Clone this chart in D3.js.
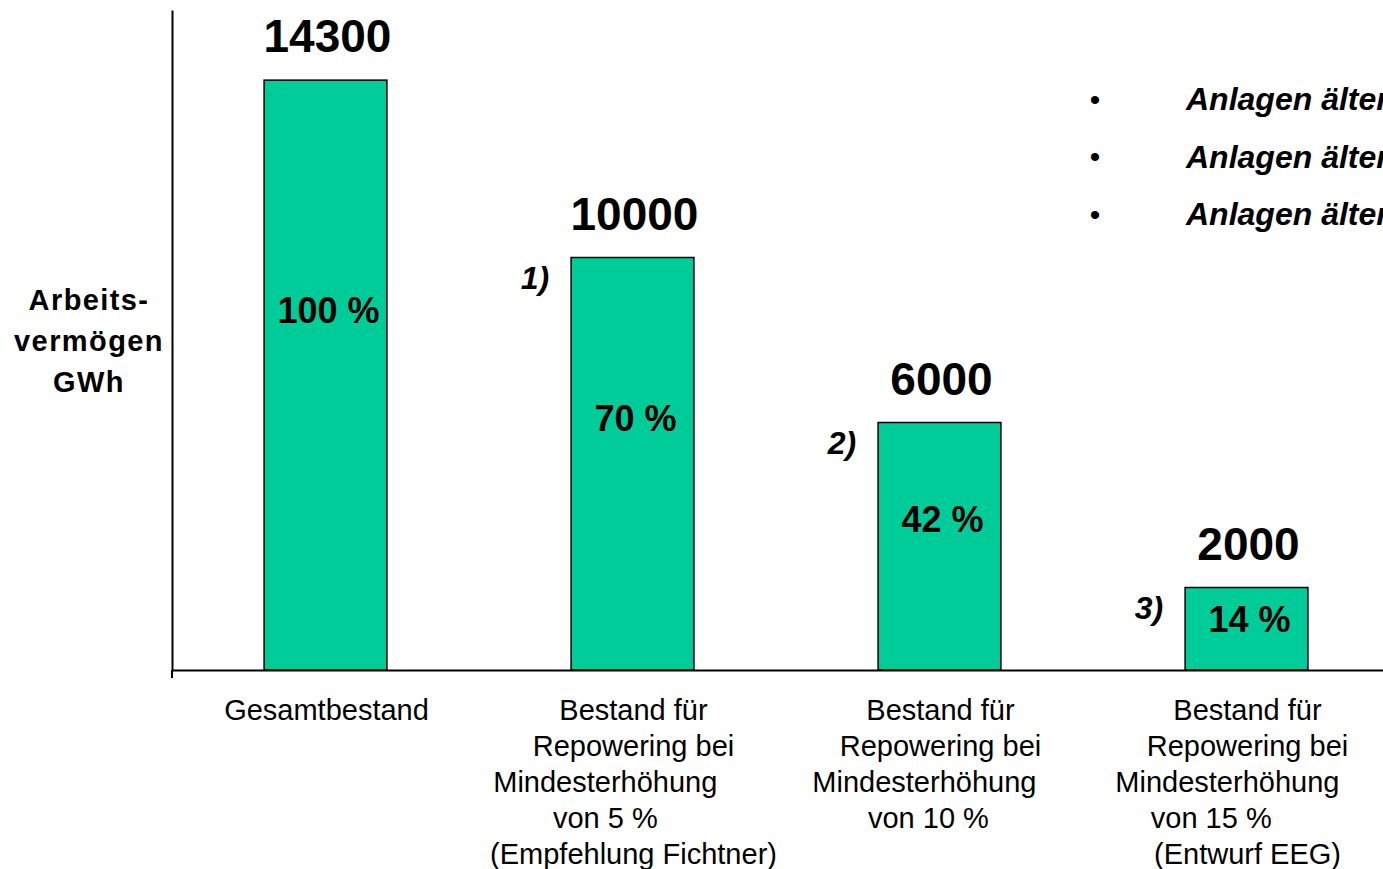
<!DOCTYPE html>
<html>
<head>
<meta charset="utf-8">
<script src="https://cdn.jsdelivr.net/npm/d3@7"></script>
<style>
  html, body { margin: 0; padding: 0; background: #fff; }
  svg { display: block; }
  text { font-family: "Liberation Sans", Arial, sans-serif; fill: #000; }
</style>
</head>
<body>
<svg id="chart" width="1383" height="869"></svg>
<script>
// ---- data ----
const categories = [
  ["Gesamtbestand"],
  ["Bestand für", "Repowering bei", "Mindesterhöhung\u00a0\u00a0\u00a0\u00a0\u00a0\u00a0\u00a0", "von 5 %\u00a0\u00a0\u00a0\u00a0\u00a0\u00a0\u00a0", "(Empfehlung Fichtner)"],
  ["Bestand für", "Repowering bei", "Mindesterhöhung\u00a0\u00a0\u00a0\u00a0", "von 10 %\u00a0\u00a0\u00a0"],
  ["Bestand für", "Repowering bei", "Mindesterhöhung\u00a0\u00a0\u00a0\u00a0\u00a0", "von 15 %\u00a0\u00a0\u00a0\u00a0\u00a0\u00a0\u00a0\u00a0\u00a0", "(Entwurf EEG)"]
];
const values = [14300, 10000, 6000, 2000];
const footnotes = ["", "1)", "2)", "3)"];
const yTitle = ["Arbeits-", "vermögen", "GWh"];
const bulletItems = ["Anlagen älter", "Anlagen älter", "Anlagen älter"];

// ---- layout ----
const svg = d3.select("#chart");
const x0 = 172, x1 = 1400, yBase = 670, yTop = 10;
const keys = d3.range(values.length);

const x = d3.scaleBand().domain(keys).range([x0, x1]).paddingInner(0.6).paddingOuter(0.3);
const y = d3.scaleLinear().domain([0, 16000]).range([yBase, yTop]);

// bars
svg.append("g").selectAll("rect").data(values).join("rect")
  .attr("x", (d, i) => x(i))
  .attr("y", d => y(d))
  .attr("width", x.bandwidth())
  .attr("height", d => y(0) - y(d))
  .attr("fill", "#00cc99")
  .attr("stroke", "#000")
  .attr("stroke-width", 1.5);

// axes
const yAxis = svg.append("g").attr("transform", `translate(${x0},0)`)
  .call(d3.axisLeft(y).tickValues([]).tickSizeOuter(0));
yAxis.select(".domain").attr("stroke", "#000").attr("stroke-width", 2);

const xAxis = svg.append("g").attr("transform", `translate(0,${yBase})`)
  .call(d3.axisBottom(x).tickValues([]).tickSizeOuter(0));
xAxis.select(".domain").attr("stroke", "#000").attr("stroke-width", 2);
// small tick at origin below baseline
svg.append("line").attr("x1", x0).attr("x2", x0).attr("y1", yBase).attr("y2", yBase + 8)
  .attr("stroke", "#000").attr("stroke-width", 2);

// value labels
svg.append("g").selectAll("text").data(values).join("text")
  .attr("x", (d, i) => x(i) + x.bandwidth() / 2 + 2)
  .attr("y", d => y(d) - 28)
  .attr("text-anchor", "middle")
  .style("font-size", "46px").style("font-weight", "bold")
  .text(d => d);

// percent labels
svg.append("g").selectAll("text").data(values).join("text")
  .attr("x", (d, i) => x(i) + x.bandwidth() / 2 + 3)
  .attr("y", d => y(d * 0.61))
  .attr("dy", "0.35em")
  .attr("text-anchor", "middle")
  .style("font-size", "36px").style("font-weight", "bold")
  .text(d => Math.round(d / values[0] * 100) + " %");

// footnotes
svg.append("g").selectAll("text").data(values).join("text")
  .attr("x", (d, i) => x(i) - 22)
  .attr("y", d => y(d) + 20)
  .attr("dy", "0.35em")
  .attr("text-anchor", "end")
  .style("font-size", "32px").style("font-weight", "bold").style("font-style", "italic")
  .text((d, i) => footnotes[i]);

// category labels
const cat = svg.append("g").selectAll("text").data(categories).join("text")
  .attr("text-anchor", "middle")
  .style("font-size", "29px")
  .style("white-space", "pre");
cat.each(function(lines, i) {
  d3.select(this).selectAll("tspan").data(lines).join("tspan")
    .attr("x", x(i) + x.bandwidth() / 2 + 1)
    .attr("y", (l, j) => yBase + 50 + j * 36)
    .text(l => l);
});

// y title
svg.append("text")
  .attr("text-anchor", "middle")
  .style("font-size", "29px").style("font-weight", "bold").style("letter-spacing", "1.4px")
  .selectAll("tspan").data(yTitle).join("tspan")
  .attr("x", 89)
  .attr("y", (d, j) => 310 + j * 41)
  .text(d => d);

// bullets
const bl = svg.append("g").selectAll("g").data(bulletItems).join("g")
  .attr("transform", (d, j) => `translate(0,${99 + j * 57.5})`);
bl.append("text").attr("x", 1095).attr("dy", "0.35em").attr("text-anchor", "middle")
  .style("font-size", "30px").text("•");
bl.append("text").attr("x", 1186).attr("dy", "0.35em")
  .style("font-size", "32px").style("font-weight", "bold").style("font-style", "italic")
  .text(d => d);
</script>
</body>
</html>
